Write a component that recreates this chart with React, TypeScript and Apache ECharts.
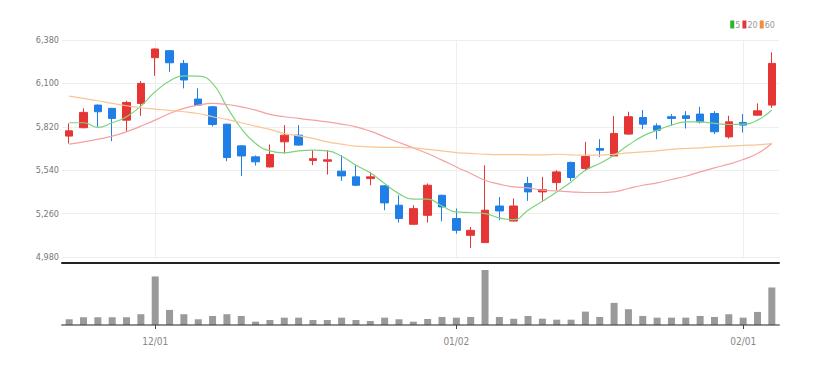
import React, { useEffect, useRef } from "react";
import * as echarts from "echarts";

const dates = [
  "11/23","11/24","11/25","11/26","11/27","11/30",
  "12/01","12/02","12/03","12/04","12/07","12/08","12/09","12/10","12/11","12/14","12/15","12/16","12/17","12/18","12/21","12/22","12/23","12/24","12/28","12/29","12/30",
  "01/02","01/05","01/06","01/07","01/08","01/09","01/12","01/13","01/14","01/15","01/16","01/19","01/20","01/21","01/22","01/23","01/26","01/27","01/28","01/29",
  "02/01","02/02","02/03",
];

// [open, close, low, high]
const ohlc = [
  [5760, 5794, 5712, 5842],
  [5814, 5913, 5810, 5939],
  [5960, 5917, 5820, 5965],
  [5939, 5874, 5727, 5942],
  [5863, 5977, 5788, 5988],
  [5971, 6100, 5891, 6115],
  [6266, 6322, 6149, 6325],
  [6311, 6233, 6175, 6315],
  [6229, 6122, 6068, 6251],
  [5999, 5960, 5955, 6068],
  [5949, 5835, 5822, 5955],
  [5837, 5622, 5598, 5840],
  [5697, 5632, 5503, 5700],
  [5626, 5594, 5570, 5635],
  [5561, 5641, 5558, 5706],
  [5723, 5766, 5648, 5831],
  [5766, 5702, 5698, 5831],
  [5603, 5614, 5572, 5669],
  [5598, 5607, 5512, 5669],
  [5534, 5503, 5471, 5637],
  [5497, 5443, 5437, 5572],
  [5486, 5497, 5443, 5529],
  [5439, 5329, 5282, 5443],
  [5314, 5228, 5202, 5378],
  [5191, 5292, 5188, 5314],
  [5249, 5443, 5202, 5454],
  [5378, 5303, 5210, 5382],
  [5228, 5152, 5131, 5292],
  [5120, 5152, 5038, 5174],
  [5073, 5282, 5070, 5572],
  [5309, 5277, 5217, 5367],
  [5212, 5309, 5210, 5357],
  [5454, 5400, 5342, 5497],
  [5400, 5415, 5338, 5497],
  [5460, 5529, 5411, 5540],
  [5590, 5493, 5471, 5595],
  [5551, 5628, 5538, 5723],
  [5680, 5669, 5626, 5740],
  [5632, 5777, 5630, 5889],
  [5773, 5885, 5770, 5917],
  [5880, 5837, 5805, 5928],
  [5826, 5798, 5740, 5842],
  [5885, 5874, 5826, 5902],
  [5891, 5874, 5809, 5921],
  [5902, 5852, 5842, 5949],
  [5906, 5788, 5773, 5921],
  [5755, 5852, 5744, 5891],
  [5848, 5831, 5783, 5902],
  [5895, 5923, 5893, 5971],
  [5960, 6229, 5943, 6300],
];

const ma5 = [
  5846, 5846, 5816, 5846, 5885, 5954, 6046, 6115, 6149, 6147,
  6100, 5949, 5809, 5712, 5665, 5652, 5665, 5669, 5665, 5630,
  5572, 5523, 5454, 5389, 5353, 5353, 5309, 5271, 5267, 5260,
  5232, 5221, 5282, 5340, 5400, 5464, 5540, 5583, 5637, 5702,
  5760, 5798, 5831, 5852, 5852, 5842, 5835, 5837, 5863, 5928,
];

const ma20 = [
  5708, 5723, 5740, 5760, 5788, 5824, 5863, 5906, 5939, 5960,
  5971, 5964, 5949, 5928, 5900, 5885, 5874, 5863, 5852, 5837,
  5820, 5792, 5755, 5719, 5684, 5648, 5605, 5561, 5519, 5475,
  5450, 5432, 5426, 5411, 5406, 5400, 5396, 5396, 5400, 5422,
  5443, 5458, 5480, 5501, 5529, 5555, 5579, 5609, 5648, 5712,
];

const ma60 = [
  6018, 6003, 5988, 5971, 5956, 5943, 5934, 5926, 5917, 5906,
  5885, 5868, 5846, 5824, 5803, 5777, 5762, 5745, 5723, 5708,
  5695, 5691, 5687, 5687, 5684, 5674, 5665, 5654, 5648, 5643,
  5641, 5641, 5639, 5639, 5643, 5639, 5637, 5637, 5643, 5652,
  5658, 5665, 5674, 5680, 5684, 5691, 5695, 5700, 5704, 5712,
];

const volumes = [
  57000, 77000, 77000, 77000, 77000, 107000, 483000, 150000, 107000, 57000,
  90000, 107000, 90000, 33000, 50000, 73000, 73000, 50000, 50000, 73000,
  50000, 40000, 73000, 57000, 33000, 60000, 80000, 73000, 80000, 547000,
  80000, 63000, 90000, 63000, 53000, 53000, 133000, 80000, 220000, 157000,
  90000, 73000, 73000, 73000, 90000, 80000, 107000, 73000, 130000, 373000,
];

const yTickMin = 4980;
const yTickMax = 6380;
const yTickStep = 280;

const RED = "#e63535";
const BLUE = "#1f7fe6";
const FONT = "'Liberation Sans Narrow', 'DejaVu Sans Condensed', 'Roboto Condensed', 'Liberation Sans', sans-serif";

const isMonthStart = (i: number) =>
  i > 0 && dates[i].slice(0, 2) !== dates[i - 1].slice(0, 2);

export default function App() {
  const ref = useRef<HTMLDivElement>(null);
  useEffect(() => {
    if (!ref.current) return;
    const chart = echarts.init(ref.current, undefined, { renderer: "svg" });
    chart.setOption({
      animation: false,
      textStyle: { fontFamily: FONT },
      legend: {
        right: 42,
        top: 15,
        icon: "rect",
        itemWidth: 4,
        itemHeight: 8,
        itemGap: 2,
        textStyle: { fontSize: 9, color: "#999", fontFamily: FONT, padding: [0, 0, 0, -4] },
        data: [
          { name: "5", itemStyle: { color: "#2ab52a" } },
          { name: "20", itemStyle: { color: "#e8353a" } },
          { name: "60", itemStyle: { color: "#f08d3c" } },
        ],
      },
      grid: [
        { left: 62, right: 43, top: 40, height: 217 },
        { left: 62, right: 43, top: 270, height: 55 },
      ],
      xAxis: [
        {
          type: "category",
          gridIndex: 0,
          data: dates,
          boundaryGap: true,
          offset: 6,
          axisLine: { lineStyle: { color: "#222", width: 2 } },
          axisTick: { show: false },
          axisLabel: { show: false },
          splitLine: {
            show: true,
            interval: (i: number) => isMonthStart(i),
            alignWithLabel: true,
            lineStyle: { color: "#eeeeee", width: 1 },
          },
        },
        {
          type: "category",
          gridIndex: 1,
          data: dates,
          boundaryGap: true,
          z: 5,
          axisLine: { lineStyle: { color: "rgba(70,70,70,0.6)", width: 2 } },
          axisTick: {
            show: true,
            interval: (i: number) => isMonthStart(i),
            alignWithLabel: true,
            length: 4,
            lineStyle: { color: "#444" },
          },
          axisLabel: {
            interval: (i: number) => isMonthStart(i),
            color: "#888",
            fontSize: 10,
            margin: 11,
            fontFamily: FONT,
          },
          splitLine: { show: false },
        },
      ],
      yAxis: [
        {
          type: "value",
          gridIndex: 0,
          min: yTickMin,
          max: yTickMax,
          interval: yTickStep,
          axisLine: { show: false },
          axisTick: { show: false },
          axisLabel: {
            color: "#777",
            fontSize: 9,
            margin: 3,
            fontFamily: FONT,
            formatter: (v: number) => v.toLocaleString("en-US"),
          },
          splitLine: { lineStyle: { color: "#eeeeee" } },
        },
        {
          type: "value",
          gridIndex: 1,
          min: 0,
          max: "dataMax",
          show: false,
        },
      ],
      series: [
        {
          type: "candlestick",
          name: "price",
          xAxisIndex: 0,
          yAxisIndex: 0,
          data: ohlc,
          barWidth: 8,
          itemStyle: {
            color: RED,
            color0: BLUE,
            borderColor: RED,
            borderColor0: BLUE,
            borderWidth: 1,
          },
        },
        {
          type: "line",
          name: "5",
          data: ma5,
          smooth: true,
          symbol: "none",
          xAxisIndex: 0,
          yAxisIndex: 0,
          lineStyle: { color: "#7fd37f", width: 1.2 },
          itemStyle: { color: "#2ab52a" },
        },
        {
          type: "line",
          name: "20",
          data: ma20,
          smooth: true,
          symbol: "none",
          xAxisIndex: 0,
          yAxisIndex: 0,
          lineStyle: { color: "#f5a0a0", width: 1.2 },
          itemStyle: { color: "#e8353a" },
        },
        {
          type: "line",
          name: "60",
          data: ma60,
          smooth: true,
          symbol: "none",
          xAxisIndex: 0,
          yAxisIndex: 0,
          lineStyle: { color: "#f9c594", width: 1.2 },
          itemStyle: { color: "#f08d3c" },
        },
        {
          type: "bar",
          name: "volume",
          xAxisIndex: 1,
          yAxisIndex: 1,
          data: volumes,
          barWidth: 7,
          itemStyle: { color: "#9a9a9a" },
        },
      ],
    });
    return () => chart.dispose();
  }, []);
  return (
    <div
      ref={ref}
      style={{ position: "fixed", left: 0, top: 0, width: 822, height: 366, background: "#fff" }}
    />
  );
}
